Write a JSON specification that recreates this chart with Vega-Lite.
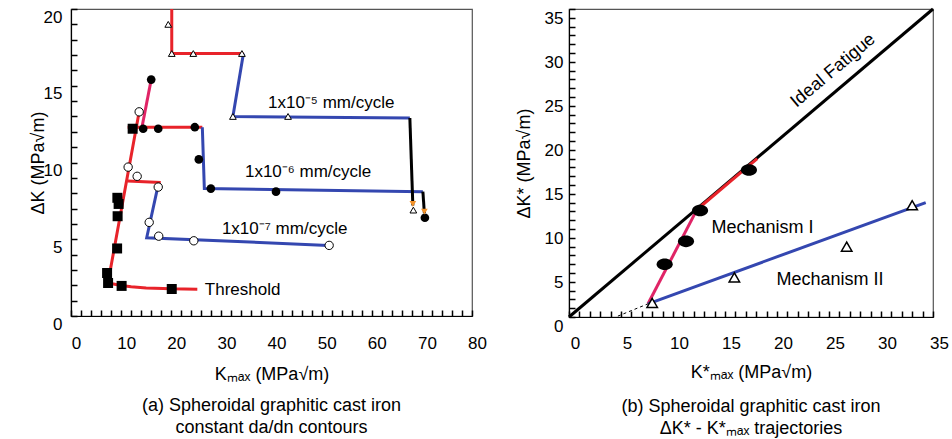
{
  "$schema": "https://vega.github.io/schema/vega-lite/v6.json",
  "padding": {"left": 28, "top": 2, "right": 5, "bottom": 0},
  "spacing": 26,
  "config": {
    "font": "Liberation Sans",
    "view": {"stroke": "#555", "strokeWidth": 1.2},
    "axis": {"grid": false, "ticks": true, "zindex": 1, "tickColor": "#000", "tickWidth": 1.5, "tickSize": -6, "domainColor": "#000", "domainWidth": 1.2, "labelColor": "#000", "titleColor": "#000", "labelFontSize": 17, "titleFontSize": 18, "titleFontWeight": "normal", "labelFlush": false, "labelOverlap": false},
    "title": {"fontSize": 18, "fontWeight": "normal", "color": "#000"},
    "text": {"font": "Liberation Sans", "fontSize": 17, "color": "#000"}
  },
  "datasets": {
    "linesA": [
      {"seg": "thr", "part": "I", "i": 0, "x": 25.2, "y": 1.75},
      {"seg": "thr", "part": "I", "i": 1, "x": 20, "y": 1.77},
      {"seg": "thr", "part": "I", "i": 2, "x": 15, "y": 1.83},
      {"seg": "thr", "part": "I", "i": 3, "x": 12, "y": 1.9},
      {"seg": "thr", "part": "I", "i": 4, "x": 10, "y": 1.98},
      {"seg": "thr", "part": "I", "i": 5, "x": 8.5, "y": 2.08},
      {"seg": "thr", "part": "I", "i": 6, "x": 7.4, "y": 2.2},
      {"seg": "thr", "part": "I", "i": 7, "x": 13.6, "y": 13.3},
      {"seg": "c7h", "part": "I", "i": 0, "x": 11.3, "y": 8.8},
      {"seg": "c7h", "part": "I", "i": 1, "x": 17.9, "y": 8.7},
      {"seg": "c7b", "part": "II", "i": 0, "x": 17.3, "y": 8.4},
      {"seg": "c7b", "part": "II", "i": 1, "x": 15.1, "y": 5.1},
      {"seg": "c7b", "part": "II", "i": 2, "x": 51.3, "y": 4.6},
      {"seg": "c6p", "part": "P", "i": 0, "x": 14.1, "y": 12.2},
      {"seg": "c6p", "part": "P", "i": 1, "x": 16.0, "y": 15.4},
      {"seg": "c6h", "part": "I", "i": 0, "x": 11.3, "y": 12.3},
      {"seg": "c6h", "part": "I", "i": 1, "x": 26.2, "y": 12.3},
      {"seg": "c6b", "part": "II", "i": 0, "x": 26.2, "y": 12.3},
      {"seg": "c6b", "part": "II", "i": 1, "x": 26.6, "y": 8.3},
      {"seg": "c6b", "part": "II", "i": 2, "x": 70.2, "y": 8.1},
      {"seg": "c6k", "part": "T", "i": 0, "x": 70.2, "y": 8.1},
      {"seg": "c6k", "part": "T", "i": 1, "x": 70.5, "y": 6.7},
      {"seg": "c5r", "part": "I", "i": 0, "x": 20.1, "y": 20},
      {"seg": "c5r", "part": "I", "i": 1, "x": 20.1, "y": 17.1},
      {"seg": "c5r", "part": "I", "i": 2, "x": 34.4, "y": 17.1},
      {"seg": "c5b", "part": "II", "i": 0, "x": 34.4, "y": 17.1},
      {"seg": "c5b", "part": "II", "i": 1, "x": 32.3, "y": 13.0},
      {"seg": "c5b", "part": "II", "i": 2, "x": 67.6, "y": 12.9},
      {"seg": "c5k", "part": "T", "i": 0, "x": 67.6, "y": 12.9},
      {"seg": "c5k", "part": "T", "i": 1, "x": 68.2, "y": 7.2}
    ],
    "pointsA": [
      {"sym": "threshold", "x": 7.2, "y": 2.8},
      {"sym": "threshold", "x": 7.4, "y": 2.15},
      {"sym": "threshold", "x": 10.1, "y": 1.96},
      {"sym": "threshold", "x": 20.1, "y": 1.76},
      {"sym": "threshold", "x": 9.2, "y": 4.4},
      {"sym": "threshold", "x": 9.3, "y": 6.5},
      {"sym": "threshold", "x": 9.5, "y": 7.3},
      {"sym": "threshold", "x": 9.25, "y": 7.7},
      {"sym": "threshold", "x": 12.3, "y": 12.2},
      {"sym": "1e-7", "x": 13.6, "y": 13.3},
      {"sym": "1e-7", "x": 11.4, "y": 9.7},
      {"sym": "1e-7", "x": 13.2, "y": 9.1},
      {"sym": "1e-7", "x": 17.4, "y": 8.4},
      {"sym": "1e-7", "x": 15.6, "y": 6.1},
      {"sym": "1e-7", "x": 17.5, "y": 5.2},
      {"sym": "1e-7", "x": 24.5, "y": 4.9},
      {"sym": "1e-7", "x": 51.5, "y": 4.6},
      {"sym": "1e-6", "x": 16.0, "y": 15.4},
      {"sym": "1e-6", "x": 14.4, "y": 12.2},
      {"sym": "1e-6", "x": 17.4, "y": 12.2},
      {"sym": "1e-6", "x": 24.7, "y": 12.3},
      {"sym": "1e-6", "x": 25.5, "y": 10.2},
      {"sym": "1e-6", "x": 27.9, "y": 8.3},
      {"sym": "1e-6", "x": 40.9, "y": 8.1},
      {"sym": "1e-6", "x": 70.6, "y": 6.4},
      {"sym": "1e-5", "x": 19.4, "y": 19.0},
      {"sym": "1e-5", "x": 20.1, "y": 17.1},
      {"sym": "1e-5", "x": 24.4, "y": 17.1},
      {"sym": "1e-5", "x": 34.1, "y": 17.1},
      {"sym": "1e-5", "x": 32.3, "y": 13.0},
      {"sym": "1e-5", "x": 43.3, "y": 13.0},
      {"sym": "1e-5", "x": 68.3, "y": 6.9},
      {"sym": "arrow", "x": 68.2, "y": 7.3},
      {"sym": "arrow", "x": 70.5, "y": 6.8}
    ],
    "textA": [
      {"t": "1x10⁻⁵ mm/cycle", "x": 39.3, "y": 13.9},
      {"t": "1x10⁻⁶ mm/cycle", "x": 34.7, "y": 9.4},
      {"t": "1x10⁻⁷ mm/cycle", "x": 30.1, "y": 5.7},
      {"t": "Threshold", "x": 26.7, "y": 1.7}
    ],
    "linesB": [
      {"seg": "ideal", "part": "T", "i": 0, "x": 0, "y": 0},
      {"seg": "ideal", "part": "T", "i": 1, "x": 35, "y": 35},
      {"seg": "mechI", "part": "I", "i": 0, "x": 12.2, "y": 12.1},
      {"seg": "mechI", "part": "I", "i": 1, "x": 18.1, "y": 18.0},
      {"seg": "trans", "part": "P", "i": 0, "x": 7.6, "y": 1.5},
      {"seg": "trans", "part": "P", "i": 1, "x": 12.3, "y": 12.2},
      {"seg": "mechII", "part": "II", "i": 0, "x": 7.6, "y": 1.5},
      {"seg": "mechII", "part": "II", "i": 1, "x": 34.3, "y": 13.0}
    ],
    "dashB": [
      {"seg": "extrap", "i": 0, "x": 4.7, "y": 0.1},
      {"seg": "extrap", "i": 1, "x": 7.6, "y": 1.5}
    ],
    "pointsB": [
      {"sym": "I", "x": 9.2, "y": 6.0},
      {"sym": "I", "x": 11.25, "y": 8.6},
      {"sym": "I", "x": 12.6, "y": 12.1},
      {"sym": "I", "x": 17.3, "y": 16.7},
      {"sym": "II", "x": 8.0, "y": 1.6},
      {"sym": "II", "x": 15.9, "y": 4.5},
      {"sym": "II", "x": 26.7, "y": 8.0},
      {"sym": "II", "x": 33.0, "y": 12.7}
    ],
    "textB": [
      {"t": "Mechanism I", "x": 18.6, "y": 10.1},
      {"t": "Mechanism II", "x": 25.1, "y": 4.2}
    ],
    "textB2": [
      {"t": "Ideal Fatigue", "x": 25.4, "y": 28.0}
    ]
  },
  "hconcat": [
    {
      "width": 401,
      "height": 307,
      "title": {"text": ["(a) Spheroidal graphitic cast iron", "constant da/dn contours"], "orient": "bottom", "offset": 14, "lineHeight": 22},
      "encoding": {
        "x": {"field": "x", "type": "quantitative", "scale": {"domain": [0, 80], "nice": false},
          "axis": {"values": [0,2,4,6,8,10,12,14,16,18,20,22,24,26,28,30,32,34,36,38,40,42,44,46,48,50,52,54,56,58,60,62,64,66,68,70,72,74,76,78,80],
            "labelExpr": "datum.value % 10 === 0 ? datum.label : ''",
            "labelOffset": 5, "labelPadding": 25, "title": "Kₘₐₓ (MPa√m)", "titlePadding": 14}},
        "y": {"field": "y", "type": "quantitative", "scale": {"domain": [0, 20], "nice": false},
          "axis": {"values": [0,1,2,3,4,5,6,7,8,9,10,11,12,13,14,15,16,17,18,19,20],
            "labelExpr": "datum.value % 5 === 0 ? datum.label : ''",
            "labelOffset": 8, "labelPadding": 15, "title": "ΔK (MPa√m)", "titlePadding": -4}}
      },
      "layer": [
        {
          "data": {"name": "linesA"},
          "mark": {"type": "line"},
          "encoding": {
            "detail": {"field": "seg"},
            "order": {"field": "i", "type": "quantitative"},
            "color": {"field": "part", "type": "nominal", "scale": {"domain": ["I", "II", "P", "T"], "range": ["#e8232a", "#3447b0", "#e02466", "#000000"]}, "legend": null},
            "strokeWidth": {"field": "part", "type": "ordinal", "scale": {"domain": ["I", "II", "P", "T"], "range": [3, 3, 2.5, 1.5]}, "legend": null}
          }
        },
        {
          "data": {"name": "pointsA"},
          "transform": [{"filter": "datum.sym === 'threshold'"}],
          "mark": {"type": "point", "shape": "square", "filled": true, "color": "#000", "opacity": 1, "size": 100},
          "encoding": {}
        },
        {
          "data": {"name": "pointsA"},
          "transform": [{"filter": "datum.sym === '1e-7'"}],
          "mark": {"type": "point", "shape": "circle", "filled": true, "fill": "#fff", "stroke": "#000", "strokeWidth": 1, "opacity": 1, "size": 70},
          "encoding": {}
        },
        {
          "data": {"name": "pointsA"},
          "transform": [{"filter": "datum.sym === '1e-6'"}],
          "mark": {"type": "point", "shape": "circle", "filled": true, "color": "#000", "opacity": 1, "size": 75},
          "encoding": {}
        },
        {
          "data": {"name": "pointsA"},
          "transform": [{"filter": "datum.sym === '1e-5'"}],
          "mark": {"type": "point", "shape": "triangle-up", "filled": true, "fill": "#fff", "stroke": "#000", "strokeWidth": 1, "opacity": 1, "size": 45},
          "encoding": {}
        },
        {
          "data": {"name": "pointsA"},
          "transform": [{"filter": "datum.sym === 'arrow'"}],
          "mark": {"type": "point", "shape": "triangle-down", "filled": true, "color": "#f2922a", "opacity": 1, "size": 45},
          "encoding": {}
        },
        {
          "data": {"name": "textA"},
          "mark": {"type": "text", "align": "left", "baseline": "middle", "fontSize": 17},
          "encoding": {"text": {"field": "t"}}
        }
      ]
    },
    {
      "width": 364,
      "height": 308,
      "title": {"text": ["(b) Spheroidal graphitic cast iron", "ΔK* - K*ₘₐₓ trajectories"], "orient": "bottom", "offset": 17, "lineHeight": 22},
      "encoding": {
        "x": {"field": "x", "type": "quantitative", "scale": {"domain": [0, 35], "nice": false},
          "axis": {"values": [0,1,2,3,4,5,6,7,8,9,10,11,12,13,14,15,16,17,18,19,20,21,22,23,24,25,26,27,28,29,30,31,32,33,34,35],
            "labelExpr": "datum.value % 5 === 0 ? datum.label : ''",
            "labelOffset": 6, "labelPadding": 24, "title": "K*ₘₐₓ (MPa√m)", "titlePadding": 12}},
        "y": {"field": "y", "type": "quantitative", "scale": {"domain": [0, 35], "nice": false},
          "axis": {"values": [0,1,2,3,4,5,6,7,8,9,10,11,12,13,14,15,16,17,18,19,20,21,22,23,24,25,26,27,28,29,30,31,32,33,34,35],
            "labelExpr": "datum.value % 5 === 0 ? datum.label : ''",
            "labelOffset": 9, "labelPadding": 12, "title": "ΔK* (MPa√m)", "titlePadding": 11}}
      },
      "layer": [
        {
          "data": {"name": "linesB"},
          "mark": {"type": "line"},
          "encoding": {
            "detail": {"field": "seg"},
            "order": {"field": "i", "type": "quantitative"},
            "color": {"field": "part", "type": "nominal", "scale": {"domain": ["I", "II", "P", "T"], "range": ["#e8232a", "#3447b0", "#e02466", "#000000"]}, "legend": null},
            "strokeWidth": {"field": "part", "type": "ordinal", "scale": {"domain": ["I", "II", "P", "T"], "range": [3, 3, 2.5, 1.5]}, "legend": null}
          }
        },
        {
          "data": {"name": "dashB"},
          "mark": {"type": "line", "color": "#000", "strokeWidth": 1, "strokeDash": [3, 3]},
          "encoding": {"order": {"field": "i", "type": "quantitative"}}
        },
        {
          "data": {"name": "pointsB"},
          "transform": [{"filter": "datum.sym === 'I'"}],
          "mark": {"type": "point", "shape": "M -1 0 A 1 0.72 0 1 1 1 0 A 1 0.72 0 1 1 -1 0 Z", "filled": true, "color": "#000", "opacity": 1, "size": 260},
          "encoding": {}
        },
        {
          "data": {"name": "pointsB"},
          "transform": [{"filter": "datum.sym === 'II'"}],
          "mark": {"type": "point", "shape": "triangle-up", "filled": true, "fill": "#fff", "stroke": "#000", "strokeWidth": 1.5, "opacity": 1, "size": 110},
          "encoding": {}
        },
        {
          "data": {"name": "textB"},
          "mark": {"type": "text", "align": "center", "baseline": "middle", "fontSize": 18},
          "encoding": {"text": {"field": "t"}}
        },
        {
          "data": {"name": "textB2"},
          "mark": {"type": "text", "align": "center", "baseline": "middle", "fontSize": 18, "angle": 320},
          "encoding": {"text": {"field": "t"}}
        }
      ]
    }
  ]
}
